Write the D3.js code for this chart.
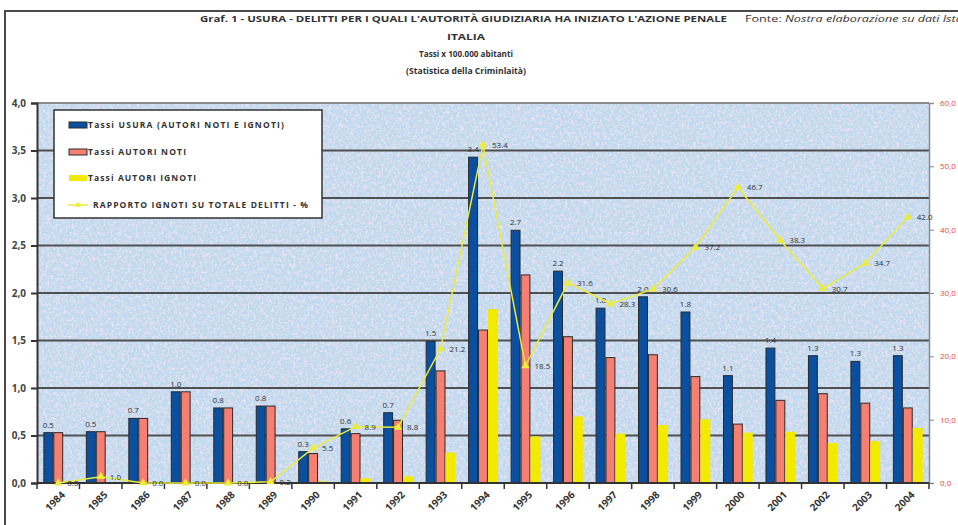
<!DOCTYPE html>
<html><head><meta charset="utf-8">
<script src="https://cdn.jsdelivr.net/npm/d3@7"></script>
<style>
html,body{margin:0;padding:0;background:#fff;}
svg{display:block;}
text{font-family:"Open Sans",sans-serif;}
</style></head>
<body>
<svg id="chart" width="958" height="525"></svg>
<script>
// ---------- DATA ----------
const years = ["1984","1985","1986","1987","1988","1989","1990","1991","1992","1993","1994","1995","1996","1997","1998","1999","2000","2001","2002","2003","2004"];
const tassiUsura  = [0.53,0.54,0.68,0.96,0.79,0.81,0.33,0.57,0.74,1.49,3.43,2.66,2.23,1.84,1.96,1.80,1.13,1.42,1.34,1.28,1.34];
const autoriNoti  = [0.53,0.54,0.68,0.96,0.79,0.81,0.31,0.52,0.66,1.18,1.61,2.19,1.54,1.32,1.35,1.12,0.62,0.87,0.94,0.84,0.79];
const autoriIgnoti= [0.00,0.005,0.00,0.00,0.00,0.002,0.018,0.05,0.07,0.32,1.83,0.49,0.70,0.52,0.61,0.67,0.53,0.54,0.42,0.44,0.58];
const rapporto    = [0.0,1.0,0.0,0.0,0.0,0.2,5.5,8.9,8.8,21.2,53.4,18.5,31.6,28.3,30.6,37.2,46.7,38.3,30.7,34.7,42.0];
const leftTicks  = [0,0.5,1,1.5,2,2.5,3,3.5,4];
const rightTicks = [0,10,20,30,40,50,60];
const seriesNames = ["Tassi USURA (AUTORI NOTI E IGNOTI)","Tassi AUTORI NOTI","Tassi AUTORI IGNOTI","RAPPORTO IGNOTI SU TOTALE DELITTI - %"];
const titleLines = ["Graf. 1  - USURA - DELITTI  PER I QUALI L'AUTORITÀ  GIUDIZIARIA  HA INIZIATO  L'AZIONE  PENALE","ITALIA","Tassi  x 100.000 abitanti","(Statistica della Criminlaità)"];

// ---------- LAYOUT ----------
const svg = d3.select("#chart");
const P = {l:37, r:929, t:103, b:483};
const C = {blue:"#0a4fa0", red:"#f47f72", yellow:"#f2ea00", line:"#ecec3a", stroke:"#2a2a2a"};

// frame
svg.append("rect").attr("x",5).attr("y",11).attr("width",1000).attr("height",600)
  .attr("fill","#fff").attr("stroke","#4a4a4a").attr("stroke-width",2);

// defs: texture
const defs = svg.append("defs");
const f = defs.append("filter").attr("id","tex").attr("x",0).attr("y",0).attr("width","100%").attr("height","100%");
f.append("feTurbulence").attr("type","fractalNoise").attr("baseFrequency","0.28").attr("numOctaves",2).attr("seed",7).attr("result","n1");
f.append("feColorMatrix").attr("in","n1").attr("type","matrix")
  .attr("values","0 0 0 0 0.90  0 0 0 0 0.72  0 0 0 0 0.86  2.2 0 0 0 -1.0").attr("result","pink");
f.append("feTurbulence").attr("type","fractalNoise").attr("baseFrequency","0.5").attr("numOctaves",1).attr("seed",19).attr("result","n2");
f.append("feColorMatrix").attr("in","n2").attr("type","matrix")
  .attr("values","0 0 0 0 0.93  0 0 0 0 0.97  0 0 0 0 1  0 1.6 0 0 -0.78").attr("result","white");
const fm = f.append("feMerge");
fm.append("feMergeNode").attr("in","pink");
fm.append("feMergeNode").attr("in","white");

// scales
const x = d3.scaleBand().domain(years).range([P.l,P.r]).paddingInner(0.3).paddingOuter(0.15);
const xs = d3.scaleBand().domain([0,1,2]).range([0,x.bandwidth()]);
const y = d3.scaleLinear().domain([0,4]).range([P.b,P.t]);
const y2 = d3.scaleLinear().domain([0,60]).range([P.b,P.t]);

// plot background
svg.append("rect").attr("x",P.l).attr("y",P.t).attr("width",P.r-P.l).attr("height",P.b-P.t).attr("fill","#c0d9ee");
svg.append("rect").attr("x",P.l).attr("y",P.t).attr("width",P.r-P.l).attr("height",P.b-P.t).attr("fill","#fff").attr("filter","url(#tex)");

// gridlines
svg.append("g").selectAll("line").data(leftTicks.filter(d=>d>0 && d<4)).join("line")
  .attr("x1",P.l).attr("x2",P.r).attr("y1",d=>y(d)).attr("y2",d=>y(d))
  .attr("stroke","#505050").attr("stroke-width",2);
svg.append("line").attr("x1",P.l).attr("x2",P.r).attr("y1",P.t).attr("y2",P.t).attr("stroke","#8a8a8a").attr("stroke-width",2);

// left axis
const ya = svg.append("g").attr("transform",`translate(${P.l},0)`)
  .call(d3.axisLeft(y).tickValues(leftTicks).tickSize(6).tickPadding(5).tickFormat(d=>d3.format(".1f")(d).replace(".",",")));
ya.select(".domain").attr("stroke","#333").attr("stroke-width",2);
ya.selectAll(".tick line").attr("stroke","#333").attr("stroke-width",2);
ya.selectAll("text").attr("font-size",10).attr("font-weight","bold").attr("fill","#444").attr("font-family","'Open Sans',sans-serif");

// right axis
const y2a = svg.append("g").attr("transform",`translate(${P.r},0)`)
  .call(d3.axisRight(y2).tickValues(rightTicks).tickSize(5).tickPadding(6).tickFormat(d=>d3.format(".1f")(d).replace(".",",")));
y2a.select(".domain").attr("stroke","#8a8a8a").attr("stroke-width",1.5);
y2a.selectAll(".tick line").attr("stroke","#888");
y2a.selectAll("text").attr("font-size",8).attr("fill","#e8453a").attr("font-family","'Open Sans',sans-serif");

// bars
const series = [
  {vals:tassiUsura, color:C.blue, stroke:C.stroke},
  {vals:autoriNoti, color:C.red, stroke:C.stroke},
  {vals:autoriIgnoti, color:C.yellow, stroke:"none"}
];
series.forEach((s,i)=>{
  svg.append("g").selectAll("rect").data(years).join("rect")
    .attr("x",(d)=>x(d)+xs(i)+(s.stroke==="none"?0:0.5))
    .attr("y",(d,j)=>y(s.vals[j]))
    .attr("width",xs.bandwidth()-(s.stroke==="none"?0:1))
    .attr("height",(d,j)=>P.b-y(s.vals[j]))
    .attr("fill",s.color).attr("stroke",s.stroke).attr("stroke-width",1);
});

// x axis
const xa = svg.append("g").attr("transform",`translate(0,${P.b})`);
xa.append("line").attr("x1",P.l).attr("x2",P.r).attr("stroke","#333").attr("stroke-width",2);
const step = x.step();
xa.selectAll("line.tk").data(d3.range(years.length+1)).join("line").attr("class","tk")
  .attr("x1",i=>P.l+i*step).attr("x2",i=>P.l+i*step).attr("y1",0).attr("y2",6)
  .attr("stroke","#333").attr("stroke-width",1.5);
xa.selectAll("text").data(years).join("text")
  .attr("transform",d=>`translate(${x(d)+x.bandwidth()/2+5},${10}) rotate(-45)`)
  .attr("text-anchor","end").attr("dy","0.35em")
  .attr("font-size",10).attr("font-weight","bold").attr("fill","#333").text(d=>d);

// blue value labels
svg.append("g").selectAll("text").data(years).join("text")
  .attr("x",(d)=>x(d)+xs(0)+xs.bandwidth()/2)
  .attr("y",(d,j)=>y(tassiUsura[j])-5)
  .attr("text-anchor","middle").attr("font-size",8).attr("fill","#333")
  .text((d,j)=>tassiUsura[j].toFixed(1));

// line
const lx = d=>x(d)+x.bandwidth()/2;
const line = d3.line().x((d,j)=>lx(years[j])).y(d=>y2(d));
svg.append("path").datum(rapporto).attr("d",line).attr("fill","none").attr("stroke",C.line).attr("stroke-width",1.5);
const tri = d3.symbol().type(d3.symbolTriangle).size(30);
svg.append("g").selectAll("path").data(rapporto).join("path")
  .attr("transform",(d,j)=>`translate(${lx(years[j])},${y2(d)})`).attr("d",tri).attr("fill",C.line);
svg.append("g").selectAll("text").data(rapporto).join("text")
  .attr("x",(d,j)=>lx(years[j])+9).attr("y",(d)=>y2(d)+3)
  .attr("font-size",8).attr("fill","#333")
  .text(d=>d.toFixed(1));

// legend
const lg = svg.append("g");
lg.append("rect").attr("x",54).attr("y",110).attr("width",268).attr("height",108).attr("fill","#fff").attr("stroke","#333").attr("stroke-width",1.5);
const ly = [125,152,178,205];
const lw = [196,98,108,215];
[C.blue,C.red,C.yellow].forEach((c,i)=>{
  lg.append("rect").attr("x",69).attr("y",ly[i]-3).attr("width",18).attr("height",6).attr("fill",c).attr("stroke",i<2?C.stroke:"none");
});
lg.append("line").attr("x1",68).attr("x2",88).attr("y1",ly[3]).attr("y2",ly[3]).attr("stroke",C.line).attr("stroke-width",1.5);
lg.append("path").attr("transform",`translate(78,${ly[3]})`).attr("d",d3.symbol().type(d3.symbolTriangle).size(18)).attr("fill",C.line);
seriesNames.forEach((n,i)=>{
  lg.append("text").attr("x",i<3?88:93).attr("y",ly[i]+3).attr("font-size",8.5).attr("font-weight","bold").attr("fill","#333")
    .attr("textLength",lw[i]).attr("lengthAdjust","spacing").text(n);
});

// titles
const ty = [22,40,57,74];
const tw = [527,38,94,120];
const tx = [200,447,419,406];
titleLines.forEach((t,i)=>{
  svg.append("text").attr("x",tx[i]).attr("y",ty[i])
    .attr("font-size",9).attr("font-weight","bold").attr("fill","#333")
    .attr("textLength",tw[i]).attr("lengthAdjust","spacingAndGlyphs").text(t);
});
const fonte = svg.append("text").attr("x",745).attr("y",22).attr("font-size",9).attr("fill","#333")
  .attr("textLength",222).attr("lengthAdjust","spacingAndGlyphs");
fonte.append("tspan").text("Fonte: ");
fonte.append("tspan").attr("font-style","italic").text("Nostra elaborazione su dati Istat");
</script>
</body></html>
